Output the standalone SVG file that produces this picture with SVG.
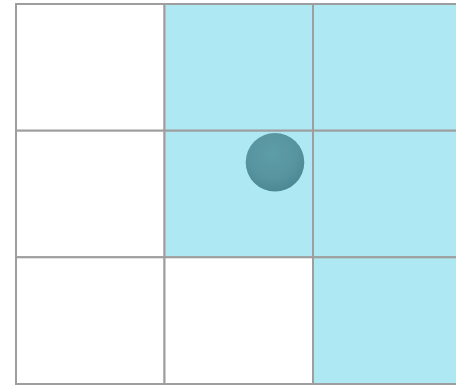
<svg xmlns="http://www.w3.org/2000/svg" width="456" height="386" viewBox="0 0 456 386">
  <defs>
    <radialGradient id="ball" cx="0.45" cy="0.35" r="0.7">
      <stop offset="0" stop-color="#5d9ea8"/>
      <stop offset="0.6" stop-color="#5794a0"/>
      <stop offset="1" stop-color="#4a8690"/>
    </radialGradient>
    <style>
      .cell { stroke: #9e9e9e; stroke-width: 2; }
      .empty { fill: #ffffff; }
      .filled { fill: #aee8f3; }
    </style>
  </defs>
  <rect width="456" height="386" fill="#ffffff"/>
  <g id="grid">
    <rect id="c00" class="cell empty" x="16" y="4" width="148.5" height="126.7"/>
    <rect id="c01" class="cell filled" x="164.5" y="4" width="148.5" height="126.7"/>
    <rect id="c02" class="cell filled" x="313" y="4" width="148.5" height="126.7"/>
    <rect id="c10" class="cell empty" x="16" y="130.7" width="148.5" height="126.6"/>
    <rect id="c11" class="cell filled" x="164.5" y="130.7" width="148.5" height="126.6"/>
    <rect id="c12" class="cell filled" x="313" y="130.7" width="148.5" height="126.6"/>
    <rect id="c20" class="cell empty" x="16" y="257.3" width="148.5" height="126.7"/>
    <rect id="c21" class="cell empty" x="164.5" y="257.3" width="148.5" height="126.7"/>
    <rect id="c22" class="cell filled" x="313" y="257.3" width="148.5" height="126.7"/>
  </g>
  <g id="ball-node">
    <circle cx="275" cy="162.3" r="29.3" fill="url(#ball)"/>
  </g>
</svg>
